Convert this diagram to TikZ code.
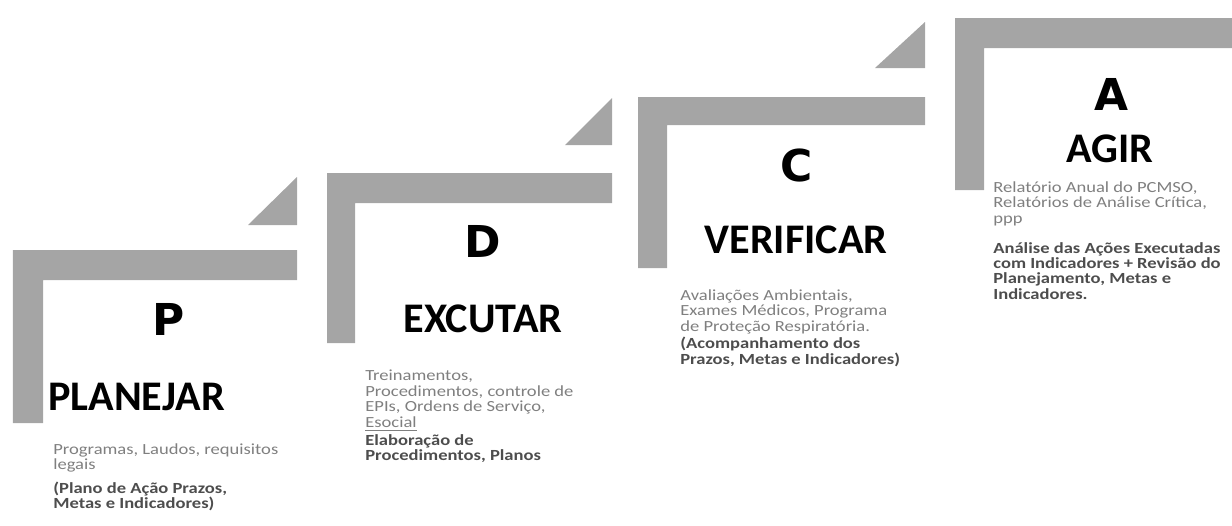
\documentclass[tikz,border=0pt]{standalone}
\usepackage{fontspec}
\setmainfont{Carlito}
\newfontfamily\blockfont{DejaVu Sans}
\newfontfamily\bodyfont{Carlito}[FakeStretch=1.2]
\usetikzlibrary{positioning}
\usepackage{xcolor}
\definecolor{pdcabar}{HTML}{A5A5A5}
\definecolor{pdcatext}{HTML}{7F7F7F}
\definecolor{pdcadark}{HTML}{4D4D4D}

\begin{document}
\begin{tikzpicture}[
    bar/.style={fill=pdcabar, draw=none},
    letter/.style={font=\blockfont\bfseries\fontsize{25}{25}\selectfont, inner sep=0pt, anchor=base},
    title/.style={font=\bfseries\fontsize{24}{24}\selectfont, inner sep=0pt, anchor=base},
    body/.style={font=\bodyfont\fontsize{8.8}{8.8}\selectfont, text=pdcatext, align=left, inner sep=0pt, anchor=north west},
    bodyb/.style={body, font=\bodyfont\bfseries\fontsize{8.8}{8.8}\selectfont, text=pdcadark}]
    \useasboundingbox (0,0) rectangle (24.64,-10.5);
    % P
    \fill[bar] (0.26,-5.0) -- (5.94,-5.0) -- (5.94,-5.6) -- (0.86,-5.6) -- (0.86,-8.46) -- (0.26,-8.46) -- cycle;
    \fill[bar] (4.96,-4.5) -- (5.94,-4.5) -- (5.94,-3.54) -- cycle;
    \node[letter] (pl) at (3.38,-6.7) {P};
    \node[title, anchor=base west] (pt) at (0.96,-8.2) {PLANEJAR};
    \node[body] (pn) at (1.06,-8.86) {Programas, Laudos, requisitos\\legais};
    \node[bodyb, below=0.18cm of pn.south west, anchor=north west] (pb) {(Plano de Ação Prazos,\\Metas e Indicadores)};
    % D
    \fill[bar] (6.54,-3.46) -- (12.24,-3.46) -- (12.24,-4.06) -- (7.1,-4.06) -- (7.1,-6.86) -- (6.54,-6.86) -- cycle;
    \fill[bar] (11.3,-2.9) -- (12.24,-2.9) -- (12.24,-1.96) -- cycle;
    \node[letter] (dl) at (9.66,-5.14) {D};
    \node[title] (dt) at (9.66,-6.64) {EXCUTAR};
    \node[body] (dn) at (7.3,-7.4) {Treinamentos,\\Procedimentos, controle de\\EPIs, Ordens de Serviço,\\\underline{Esocial}};
    \node[bodyb, below=0.05cm of dn.south west, anchor=north west] (db) {Elaboração de\\Procedimentos, Planos};
    % C
    \fill[bar] (12.76,-1.94) -- (18.5,-1.94) -- (18.5,-2.5) -- (13.34,-2.5) -- (13.34,-5.36) -- (12.76,-5.36) -- cycle;
    \fill[bar] (17.5,-1.36) -- (18.5,-1.36) -- (18.5,-0.44) -- cycle;
    \node[letter] (cl) at (15.94,-3.62) {C};
    \node[title] (ct) at (15.92,-5.06) {VERIFICAR};
    \node[body] (cn) at (13.6,-5.78) {Avaliações Ambientais,\\Exames Médicos, Programa\\de Proteção Respiratória.};
    \node[bodyb, below=0.06cm of cn.south west, anchor=north west] (cb) {(Acompanhamento dos\\Prazos, Metas e Indicadores)};
    % A
    \fill[bar] (19.1,-0.36) -- (24.64,-0.36) -- (24.64,-0.96) -- (19.68,-0.96) -- (19.68,-3.8) -- (19.1,-3.8) -- cycle;
    \node[letter] (al) at (22.22,-2.2) {A};
    \node[title] (at) at (22.2,-3.24) {AGIR};
    \node[body] (an) at (19.86,-3.62) {Relatório Anual do PCMSO,\\Relatórios de Análise Crítica,\\ppp};
    \node[bodyb, below=0.32cm of an.south west, anchor=north west] (ab) {Análise das Ações Executadas\\com Indicadores + Revisão do\\Planejamento, Metas e\\Indicadores.};
\end{tikzpicture}
\end{document}
